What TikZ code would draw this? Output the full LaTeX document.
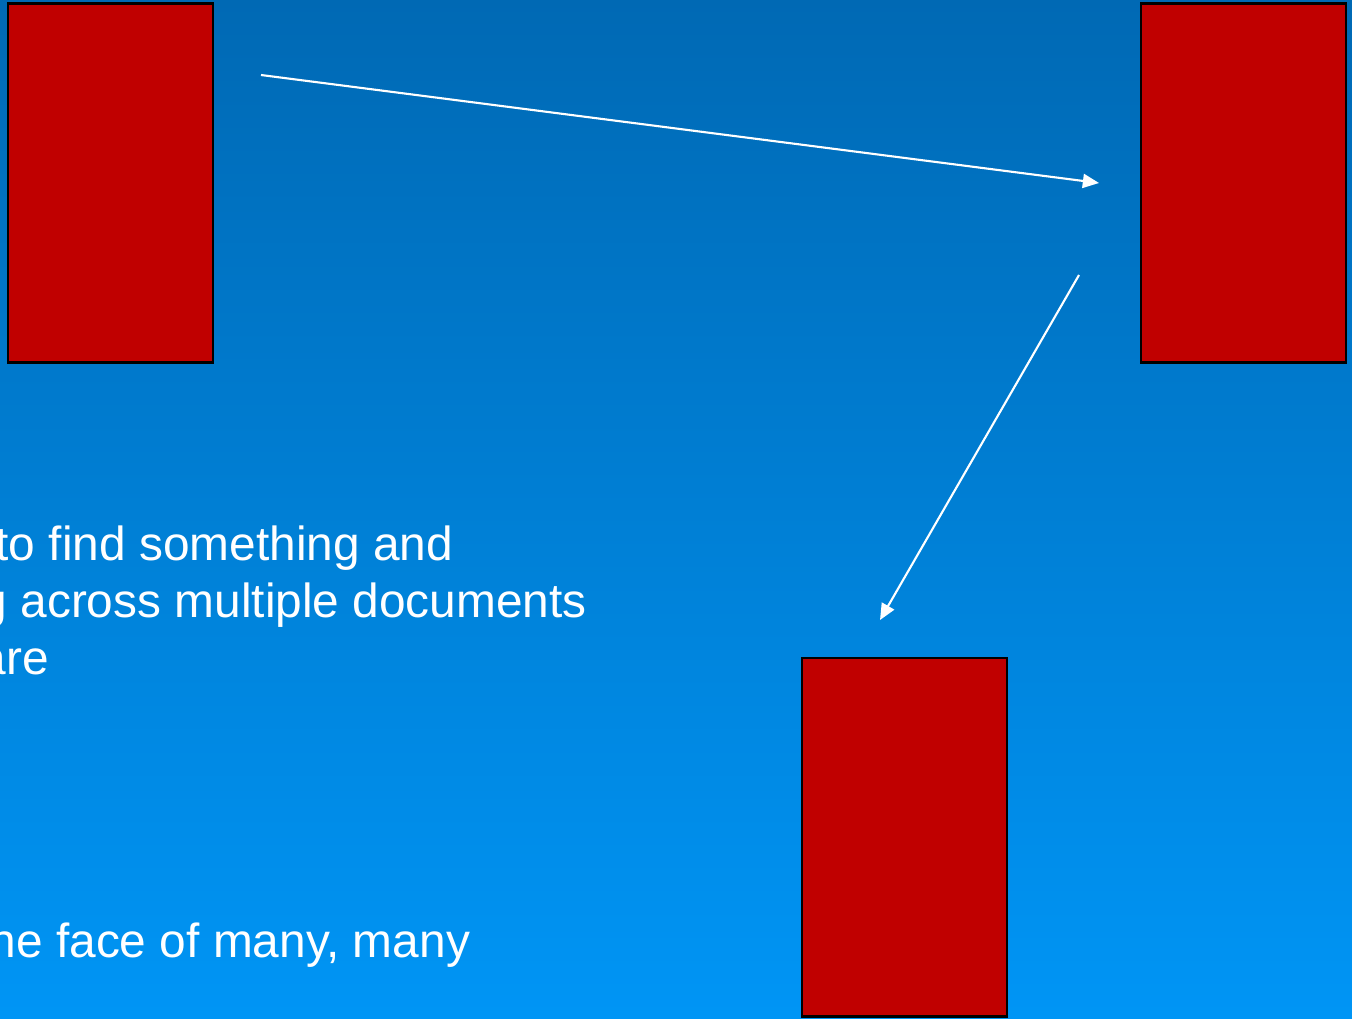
\documentclass[tikz,border=0pt]{standalone}
\usepackage{fontspec}
\setmainfont{Liberation Sans}
\usetikzlibrary{arrows.meta,positioning}

\definecolor{bgtop}{RGB}{0,105,180}
\definecolor{bgbottom}{RGB}{0,149,245}
\definecolor{boxred}{RGB}{192,0,0}

\begin{document}
\begin{tikzpicture}[
    x=0.01cm, y=-0.01cm,
    block/.style = {rectangle, draw=black, line width=0.8pt, fill=boxred, minimum width=2.05cm, minimum height=3.58cm, inner sep=0pt},
    link/.style = {-{Triangle[length=4.6pt,width=4pt]}, white, line width=0.6pt},
    slide/.style = {anchor=base west, inner sep=0pt, text=white, font=\fontsize{13.6pt}{16.2pt}\selectfont}
]
    % Background and clipping
    \useasboundingbox (0,0) rectangle (1352,1018);
    \clip (0,0) rectangle (1352,1018);
    \shade[top color=bgtop, bottom color=bgbottom] (0,0) rectangle (1352,1018);

    % Boxes
    \node[block] (left) at (110.5,183) {};
    \node[block] (right) at (1243.5,183) {};
    \node[block] (bottom) at (904.5,837) {};

    % Text lines, cut at the left edge
    \node[slide] (line1) at (-5,560) {to find something and};
    \node[slide] (line2) at (-20,617) {g across multiple documents};
    \node[slide] (line3) at (-21,674) {are};
    \node[slide] (line4) at (-11,957) {he face of many, many};

    % Arrow ends
    \coordinate (s1) at (261,75);
    \coordinate (e1) at (1099,183);
    \coordinate (s2) at (1079,275);
    \coordinate (e2) at (880,620);

    % Arrows
    \draw[link] (s1) -- (e1);
    \draw[link] (s2) -- (e2);

\end{tikzpicture}
\end{document}
